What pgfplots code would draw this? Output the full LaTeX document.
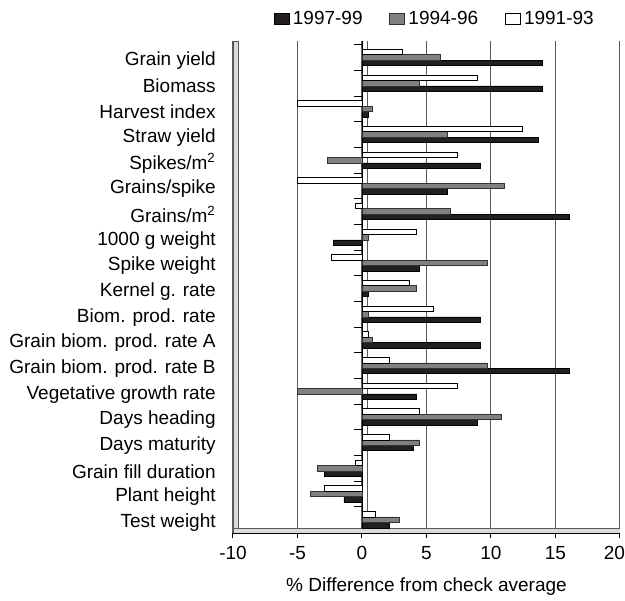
\documentclass[border=0pt]{standalone}
\usepackage{fontspec}
\setmainfont{Liberation Sans}
\usepackage{pgfplots}
\pgfplotsset{compat=1.18}
\definecolor{barblack}{HTML}{231F20}
\definecolor{bargray}{HTML}{808080}
\definecolor{gridgray}{HTML}{5A5A5A}
\definecolor{wallgray}{HTML}{DADADA}

% y = 18 - category index (Grain yield at the top)
\pgfplotstableread{
y   p9799  p9496  p9193
18  14.0   6.05   3.15
17  14.0   4.45   8.95
16  0.5    0.8   -5.0
15  13.7   6.6   12.4
14  9.2   -2.7    7.4
13  6.6   11.05  -5.0
12  16.1   6.85  -0.55
11 -2.2    0.5    4.2
10  4.45   9.75  -2.4
9   0.5    4.2    3.7
8   9.2    0.5    5.5
7   9.2    0.8    0.5
6   16.1   9.75   2.1
5   4.25  -5.0    7.4
4   8.95  10.8    4.45
3   3.95   4.45   2.1
2  -2.9   -3.45  -0.55
1  -1.4   -4.0   -2.9
0   2.1    2.9    1.0
}\diffdata

\begin{document}
\begin{tikzpicture}
\begin{axis}[
  scale only axis,
  width=232.2pt, height=295.2pt,
  xbar=0pt, bar width=3.28pt,
  xmin=-10, xmax=20, ymin=-0.52, ymax=18.64,
  xtick={-10,-5,...,15},
  extra x ticks={20},
  extra x tick style={grid=major, xticklabel style={xshift=-3.3pt}},
  ytick={0,...,18},
  yticklabels={Test weight, Plant height, Grain fill duration, Days maturity,
    Days heading, Vegetative growth rate, Grain biom. prod. rate B,
    Grain biom. prod. rate A, Biom. prod. rate, Kernel g. rate, Spike weight,
    1000 g weight, Grains/m\textsuperscript{2}, Grains/spike,
    Spikes/m\textsuperscript{2}, Straw yield, Harvest index, Biomass, Grain yield},
  axis x line*=bottom, axis y line*=left,
  y axis line style={draw=none},
  ytick style={draw=none},
  xtick style={black, line width=0.6pt},
  tick align=outside, major tick length=3pt,
  /pgf/number format/assume math mode=true,
  xticklabel style={font=\fontsize{11.4}{13}\selectfont, inner sep=0pt, anchor=north, yshift=-4.9pt},
  yticklabel style={font=\fontsize{11.4}{13}\selectfont, inner sep=0pt, anchor=east, xshift=-7.2pt, yshift=-1.8pt},
  xmajorgrids, grid style={gridgray, line width=0.6pt},
  xlabel={\% Difference from check average},
  xlabel style={font=\fontsize{11.4}{13}\selectfont, at={(axis description cs:0.5,0)}, anchor=center, yshift=-32pt},
  legend columns=3,
  legend style={draw=none, font=\fontsize{11.4}{13}\selectfont, at={(0.523,1.045)}, anchor=center,
    /tikz/every even column/.append style={column sep=14pt}},
  legend cell align=left,
  legend image code/.code={\draw[#1, line width=0.5pt] (0pt,-3.3pt) rectangle (9pt,3.3pt);},
]
% back wall / floor decoration
\fill[wallgray, draw=gridgray] (axis cs:-10,-0.52) rectangle (axis cs:20,-0.32);
\fill[wallgray, draw=gridgray] (axis cs:-10,-0.32) rectangle (axis cs:-9.6,18.64);
\draw[black, line width=0.5pt] (axis cs:0,-0.32) -- (axis cs:0,18.64);
\draw[gridgray, line width=0.4pt] (axis cs:0.38,-0.32) -- (axis cs:0.38,18.64);
\pgfplotsinvokeforeach{0.5,1.5,...,18.5}{
  \draw[black, line width=0.5pt] (axis cs:0,#1) -- ++(-5pt,0pt);
  \draw[black, line width=0.5pt] (axis cs:-10,#1) -- ++(-4pt,0pt);
}
\addplot[fill=barblack, draw=black, line width=0.4pt] table[x=p9799, y=y] {\diffdata};
\addlegendentry{1997-99}
\addplot[fill=bargray, draw=black!80, line width=0.4pt] table[x=p9496, y=y] {\diffdata};
\addlegendentry{1994-96}
\addplot[fill=white, draw=black, line width=0.4pt] table[x=p9193, y=y] {\diffdata};
\addlegendentry{1991-93}
\end{axis}
% page frame with the reference's margins
\pgfresetboundingbox
\path (current axis.south west) ++(-139.8pt,-40.8pt) rectangle ++(375pt,360.6pt);
\end{tikzpicture}
\end{document}
